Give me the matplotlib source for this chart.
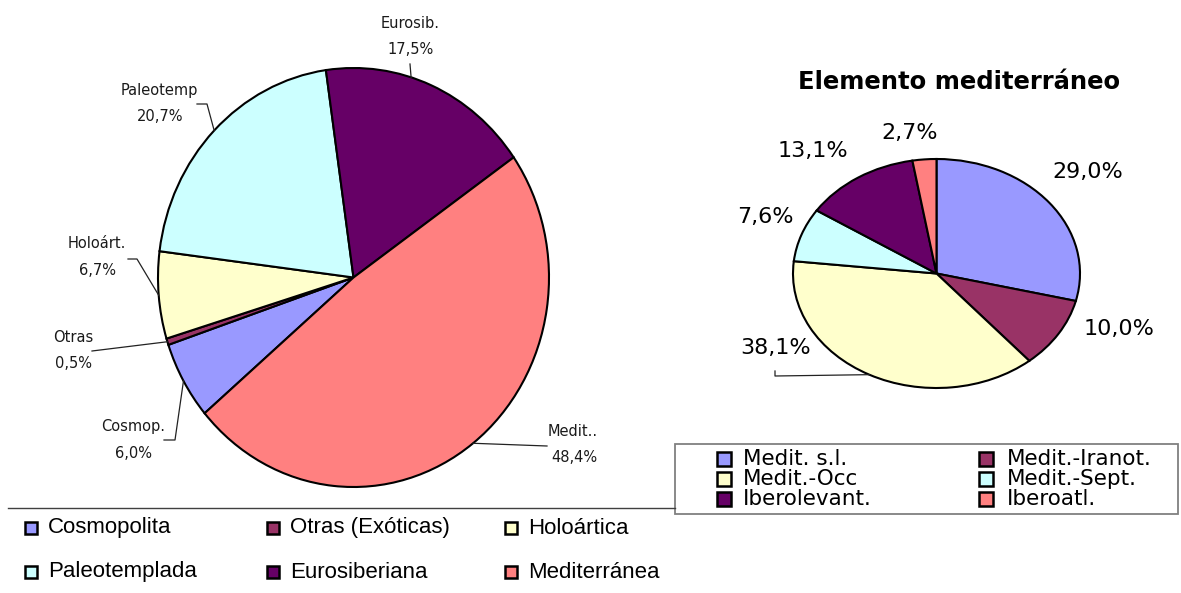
import numpy as np
import matplotlib
matplotlib.use("Agg")
import matplotlib.pyplot as plt
from matplotlib.patches import Rectangle
from matplotlib.lines import Line2D

cats1 = ["Cosmopolita", "Otras (Exóticas)", "Holoártica",
         "Paleotemplada", "Eurosiberiana", "Mediterránea"]
short1 = ["Cosmop.", "Otras", "Holoárt.", "Paleotemp", "Eurosib.", "Medit.."]
vals1 = [6.0, 0.5, 6.7, 20.7, 17.5, 48.4]

cats2 = ["Medit. s.l.", "Medit.-Iranot.", "Medit.-Occ",
         "Medit.-Sept.", "Iberolevant.", "Iberoatl."]
vals2 = [29.0, 10.0, 38.1, 7.6, 13.1, 2.7]

cols1 = ["#9999FF", "#993366", "#FFFFCC", "#CCFFFF", "#660066", "#FF8080"]
cols2 = ["#9999FF", "#993366", "#FFFFCC", "#CCFFFF", "#660066", "#FF8080"]

W, H = 1181, 593
fig = plt.figure(figsize=(W / 100, H / 100), dpi=100)


def fx(x):
    return x / W


def fy(y):
    return 1 - y / H


def pct(v):
    return f"{v:.1f}%".replace(".", ",")


def pie_point(ax, w, frac=0.5):
    # punto del borde del sector, en pixeles de la imagen
    a = np.radians(w.theta1 + frac * (w.theta2 - w.theta1))
    px, py = ax.transData.transform((np.cos(a), np.sin(a)))
    return px, H - py


def leader(pts, color="#222222"):
    xs = [fx(p[0]) for p in pts]
    ys = [fy(p[1]) for p in pts]
    fig.add_artist(Line2D(xs, ys, transform=fig.transFigure, color=color, lw=0.9))


# ---- grafico izquierdo ----
ax1 = fig.add_axes([fx(158), fy(487), (549 - 158) / W, (487 - 68) / H])
w1, _ = ax1.pie(vals1, colors=cols1, startangle=-139.6, counterclock=False,
                wedgeprops=dict(edgecolor="black", linewidth=1.5))
ax1.set_aspect("auto")
ax1.set_xlim(-1, 1)
ax1.set_ylim(-1, 1)
for w in w1:
    w.set_clip_on(False)

lab_pos1 = [(133, 427), (73, 337), (97, 244), (159, 90), (410, 23), (573, 431)]
elbows1 = [[(164, 440), (175, 440)], [(92, 351)], [(128, 259), (137, 259)],
           [(197, 104), (207, 104)], [(410, 64)], [(547, 446)]]
fracs1 = [0.5, 0.5, 0.5, 0.5, 0.6, 0.5]

for w, name, v, (x, y), el, fr in zip(w1, short1, vals1, lab_pos1, elbows1, fracs1):
    fig.text(fx(x), fy(y), name, ha="center", va="center", fontsize=10.5,
             family="DejaVu Sans", color="#1a1a1a")
    fig.text(fx(x + 1), fy(y + 26.5), pct(v), ha="center", va="center", fontsize=10.5,
             family="DejaVu Sans", color="#1a1a1a")
    leader(el + [pie_point(ax1, w, fr)])

# leyenda izquierda
fig.add_artist(Line2D([fx(8), fx(675)], [fy(508), fy(508)], transform=fig.transFigure,
                      color="#404040", lw=1))
mk_x1 = [25, 267, 505]
tx_x1 = [48, 290, 528]
rows1 = [528, 572]
for i, (c, col) in enumerate(zip(cats1, cols1)):
    r, k = divmod(i, 3)
    y = rows1[r]
    fig.add_artist(Rectangle((fx(mk_x1[k]), fy(y + 6)), 12 / W, 12 / H,
                             transform=fig.transFigure, facecolor=col,
                             edgecolor="black", lw=1.8))
    fig.text(fx(tx_x1[k]), fy(y), c, ha="left", va="center", fontsize=16,
             family="Liberation Sans", color="black")

# ---- grafico derecho ----
ax2 = fig.add_axes([fx(793), fy(388), (1080 - 793) / W, (388 - 159) / H])
w2, _ = ax2.pie(vals2, colors=cols2, startangle=90, counterclock=False,
                wedgeprops=dict(edgecolor="black", linewidth=1.5))
ax2.set_aspect("auto")
ax2.set_xlim(-1, 1)
ax2.set_ylim(-1, 1)
for w in w2:
    w.set_clip_on(False)

fig.text(fx(959), fy(82), "Elemento mediterráneo", ha="center", va="center",
         fontsize=17.5, fontweight="bold", family="DejaVu Sans")

lab_pos2 = [(1088, 172), (1119, 329), (776, 348), (765, 217), (813, 151), (910, 133)]
for v, (x, y) in zip(vals2, lab_pos2):
    fig.text(fx(x), fy(y), pct(v), ha="center", va="center", fontsize=16,
             family="DejaVu Sans", color="black")
leader([(775, 371), (775, 376), pie_point(ax2, w2[2])])

# leyenda derecha
fig.add_artist(Rectangle((fx(675), fy(514)), (1178 - 675) / W, 70 / H,
                         transform=fig.transFigure, facecolor="white",
                         edgecolor="#808080", lw=1.3))
mk_x2 = [717, 979]
tx_x2 = [743, 1007]
rows2 = [459, 479, 499]
for i, (c, col) in enumerate(zip(cats2, cols2)):
    r, k = divmod(i, 2)
    y = rows2[r]
    fig.add_artist(Rectangle((fx(mk_x2[k]), fy(y + 7)), 14 / W, 14 / H,
                             transform=fig.transFigure, facecolor=col,
                             edgecolor="black", lw=1.8))
    fig.text(fx(tx_x2[k]), fy(y), c, ha="left", va="center", fontsize=15.5,
             family="DejaVu Sans", color="black")

fig.savefig("out.png", dpi=100)
